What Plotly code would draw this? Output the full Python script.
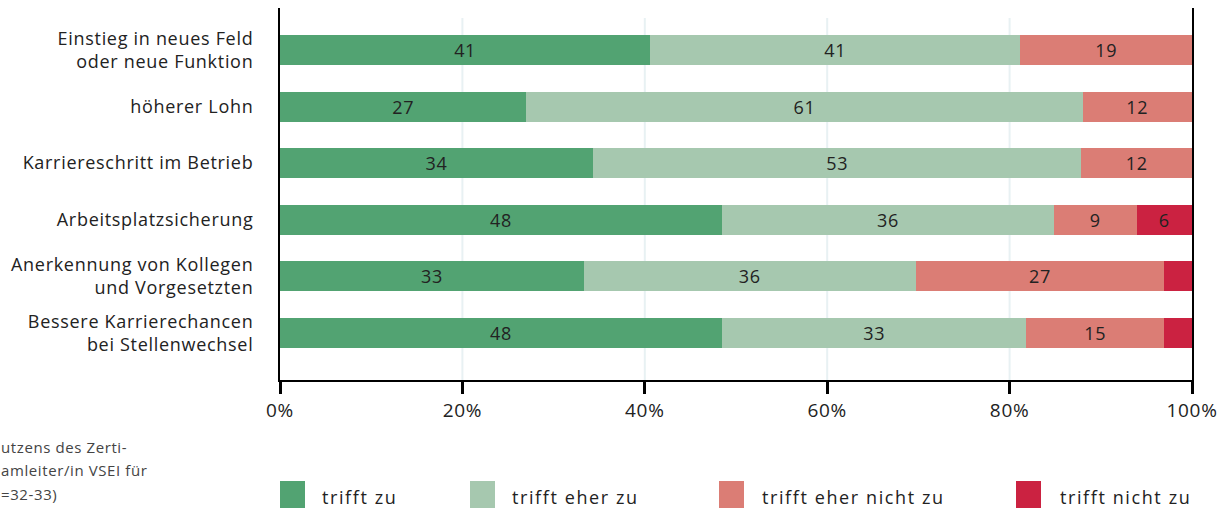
import plotly.graph_objects as go

categories = [
    "Einstieg in neues Feld<br>oder neue Funktion",
    "höherer Lohn",
    "Karriereschritt im Betrieb",
    "Arbeitsplatzsicherung",
    "Anerkennung von Kollegen<br>und Vorgesetzten",
    "Bessere Karrierechancen<br>bei Stellenwechsel",
]
series_names = ["trifft zu", "trifft eher zu", "trifft eher nicht zu", "trifft nicht zu"]
trifft_zu = [41, 27, 34, 48, 33, 48]
trifft_eher_zu = [41, 61, 53, 36, 36, 33]
trifft_eher_nicht_zu = [19, 12, 12, 9, 27, 15]
trifft_nicht_zu = [0, 0, 0, 6, 3, 3]
series_values = [trifft_zu, trifft_eher_zu, trifft_eher_nicht_zu, trifft_nicht_zu]
colors = ["#52A372", "#A6C8AF", "#DB7D75", "#CB2241"]
tick_vals = [0, 20, 40, 60, 80, 100]
tick_text = ["0%", "20%", "40%", "60%", "80%", "100%"]
source_lines = ["utzens des Zerti-", "amleiter/in VSEI für", "=32-33)"]

FONT = "Open Sans"
W, H = 1230, 508
L, R, T, B = 280, 38, 8, 128
PW, PH = W - L - R, H - T - B


def px_x(x):
    return (x - L) / PW


def px_y(y):
    return (H - B - y) / PH


fig = go.Figure()
for name, vals, col in zip(series_names, series_values, colors):
    fig.add_trace(go.Bar(
        y=categories, x=vals, name=name, orientation="h",
        marker=dict(color=col, line=dict(width=0)),
        text=[str(v) if v >= 5 else "" for v in vals],
        textposition="inside", insidetextanchor="middle", textangle=0,
        textfont=dict(family=FONT, size=18, color="#222222"),
        constraintext="none", width=0.53, showlegend=False,
    ))

shapes = []
annotations = []
for tv in tick_vals[1:-1]:
    shapes.append(dict(type="line", xref="x", yref="paper", x0=tv, x1=tv,
                       y0=0, y1=px_y(18), line=dict(color="#E8F1F3", width=2),
                       layer="below"))
leg_sw = [280, 470, 719, 1016]
leg_tx = [320, 510, 760, 1058]
for name, col, sx, tx in zip(series_names, colors, leg_sw, leg_tx):
    shapes.append(dict(type="rect", xref="paper", yref="paper",
                       x0=px_x(sx), x1=px_x(sx + 25), y0=px_y(508), y1=px_y(481),
                       fillcolor=col, line=dict(width=0), layer="above"))
    annotations.append(dict(xref="paper", yref="paper", x=px_x(tx), y=px_y(497),
                            xanchor="left", yanchor="middle", align="left",
                            showarrow=False, text=name,
                            font=dict(family=FONT, size=18, color="#222222")))
for i, line in enumerate(source_lines):
    annotations.append(dict(xref="paper", yref="paper", x=px_x(-1), y=px_y(447 + 23.5 * i),
                            xanchor="left", yanchor="middle", align="left",
                            showarrow=False, text=line,
                            font=dict(family=FONT, size=15, color="#444444")))

fig.update_layout(
    barmode="stack", barnorm="percent",
    width=W, height=H, margin=dict(l=L, r=R, t=T, b=B),
    paper_bgcolor="white", plot_bgcolor="white",
    font=dict(family=FONT, color="#222222"),
    shapes=shapes, annotations=annotations,
    xaxis=dict(range=[0, 100], tickvals=tick_vals, ticktext=tick_text,
               showgrid=False,
               showline=True, linecolor="black", linewidth=2,
               ticks="outside", ticklen=12, tickwidth=3, tickcolor="black",
               tickfont=dict(family=FONT, size=19, color="#222222"),
               zeroline=False, fixedrange=True),
    yaxis=dict(type="category", range=[5.83, -0.74],
               showline=True, mirror=True, linecolor="black", linewidth=2,
               showgrid=False, ticks="", ticklabelstandoff=21,
               tickfont=dict(family=FONT, size=18, color="#222222"),
               fixedrange=True),
)

post = """
var s = document.createElement('style');
s.innerHTML = 'html,body{margin:0;padding:0;} .main-svg text{letter-spacing:0.7px;} '
  + '.annotation-text{letter-spacing:1.6px !important;} '
  + '.annotation[data-index="4"] .annotation-text, .annotation[data-index="5"] .annotation-text, '
  + '.annotation[data-index="6"] .annotation-text{letter-spacing:0.6px !important;}';
document.head.appendChild(s);
"""
fig.write_html("out.html", post_script=post, config={"displayModeBar": False})
